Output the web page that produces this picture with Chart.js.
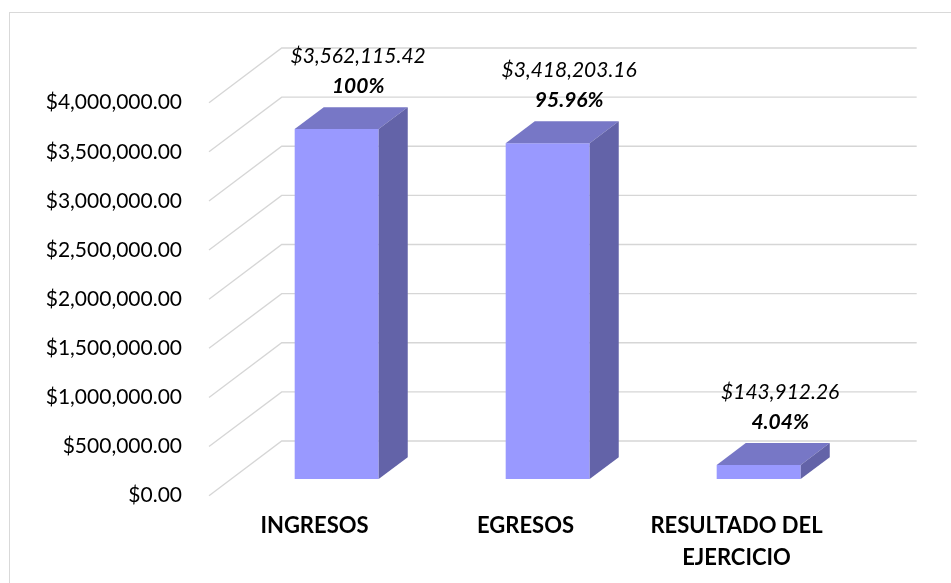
<!DOCTYPE html>
<html>
<head>
<meta charset="utf-8">
<script src="https://cdn.jsdelivr.net/npm/chart.js@4/dist/chart.umd.min.js"></script>
<style>
  html, body { margin: 0; padding: 0; background: #ffffff; }
  #wrap { width: 951px; height: 583px; position: relative; }
</style>
</head>
<body>
<div id="wrap"><canvas id="c" width="951" height="583"></canvas></div>
<script>
// ---- data ----
const categories = ['INGRESOS', 'EGRESOS', ['RESULTADO DEL', 'EJERCICIO']];
const values = [3562115.42, 3418203.16, 143912.26];
const percentLabels = ['100%', '95.96%', '4.04%'];
const yMin = 0;
const yMax = 4000000;
const yStep = 500000;

// ---- style ----
const FONT = 'Lato, "Noto Sans", sans-serif';
const FRONT = '#9999FF';
const TOP = '#7777C6';
const SIDE = '#6363A8';
const GRID = '#d6d6d6';
const DEPTH_X = 72.7, DEPTH_Y = -54.7;   // full floor depth (oblique)
const F0 = 0.305, FD = 0.40;               // bar front position, bar depth (fractions)

function money(v) {
  return '$' + v.toLocaleString('en-US', { minimumFractionDigits: 2, maximumFractionDigits: 2 });
}

const threeD = {
  id: 'threeD',
  beforeDraw(chart) {
    const ctx = chart.ctx;
    ctx.save();
    ctx.fillStyle = '#ffffff';
    ctx.fillRect(0, 0, chart.width, chart.height);
    ctx.strokeStyle = '#d9d9d9';
    ctx.lineWidth = 1;
    ctx.strokeRect(9.5, 12.5, 1000, 1000);
    ctx.restore();
  },
  beforeDatasetsDraw(chart) {
    const ctx = chart.ctx;
    const ys = chart.scales.y;
    const a = chart.chartArea;
    ctx.save();
    ctx.strokeStyle = GRID;
    ctx.lineWidth = 1.3;
    ys.ticks.forEach(t => {
      const y = ys.getPixelForValue(t.value);
      ctx.beginPath();
      ctx.moveTo(a.left, y);
      ctx.lineTo(a.left + DEPTH_X, y + DEPTH_Y);
      ctx.lineTo(a.right + DEPTH_X + 2, y + DEPTH_Y);
      ctx.stroke();
    });
    ctx.restore();
    ctx.save();
    ctx.translate(DEPTH_X * F0, DEPTH_Y * F0);
  },
  afterDatasetsDraw(chart) {
    const ctx = chart.ctx;
    ctx.restore();
    const ox = DEPTH_X * F0, oy = DEPTH_Y * F0;
    const dx = DEPTH_X * FD, dy = DEPTH_Y * FD;
    const meta = chart.getDatasetMeta(0);
    ctx.save();
    meta.data.forEach((bar, i) => {
      const p = bar.getProps(['x', 'y', 'base', 'width'], true);
      const l = p.x - p.width / 2 + ox, r = p.x + p.width / 2 + ox;
      const t = p.y + oy, b = p.base + oy;
      // top face
      ctx.fillStyle = TOP;
      ctx.beginPath();
      ctx.moveTo(l, t); ctx.lineTo(r, t); ctx.lineTo(r + dx, t + dy); ctx.lineTo(l + dx, t + dy);
      ctx.closePath(); ctx.fill();
      // side face
      ctx.fillStyle = SIDE;
      ctx.beginPath();
      ctx.moveTo(r, t); ctx.lineTo(r + dx, t + dy); ctx.lineTo(r + dx, b + dy); ctx.lineTo(r, b);
      ctx.closePath(); ctx.fill();
      // labels
      const cx = p.x + ox + 21.5;
      const backTop = t + dy;
      ctx.fillStyle = '#000000';
      ctx.textAlign = 'center';
      ctx.textBaseline = 'middle';
      ctx.font = 'italic 21px ' + FONT;
      ctx.fillText(money(values[i]), cx, backTop - 51);
      ctx.font = 'italic bold 21px ' + FONT;
      ctx.fillText(percentLabels[i], cx, backTop - 21);
    });
    ctx.restore();
  }
};

new Chart(document.getElementById('c'), {
  type: 'bar',
  data: {
    labels: categories,
    datasets: [{
      data: values,
      backgroundColor: FRONT,
      borderWidth: 0,
      categoryPercentage: 1,
      barPercentage: 0.398,
      clip: false
    }]
  },
  options: {
    responsive: false,
    animation: false,
    events: [],
    layout: { padding: { top: 102.7, right: 109, bottom: 0, left: 0 } },
    plugins: { legend: { display: false }, tooltip: { enabled: false } },
    scales: {
      x: {
        grid: { display: false, drawTicks: false },
        border: { display: false },
        ticks: {
          color: '#000000',
          font: { family: FONT, size: 22, weight: 'bold', lineHeight: 1.45 },
          padding: 14,
          maxRotation: 0,
          autoSkip: false
        },
        afterFit(s) { s.height = 87.3; }
      },
      y: {
        min: yMin,
        max: yMax,
        grid: { display: false, drawTicks: false },
        border: { display: false },
        ticks: {
          stepSize: yStep,
          color: '#000000',
          font: { family: FONT, size: 21 },
          padding: 27,
          callback: v => money(v)
        },
        afterFit(s) { s.width = 209; }
      }
    }
  },
  plugins: [threeD]
});
</script>
</body>
</html>
